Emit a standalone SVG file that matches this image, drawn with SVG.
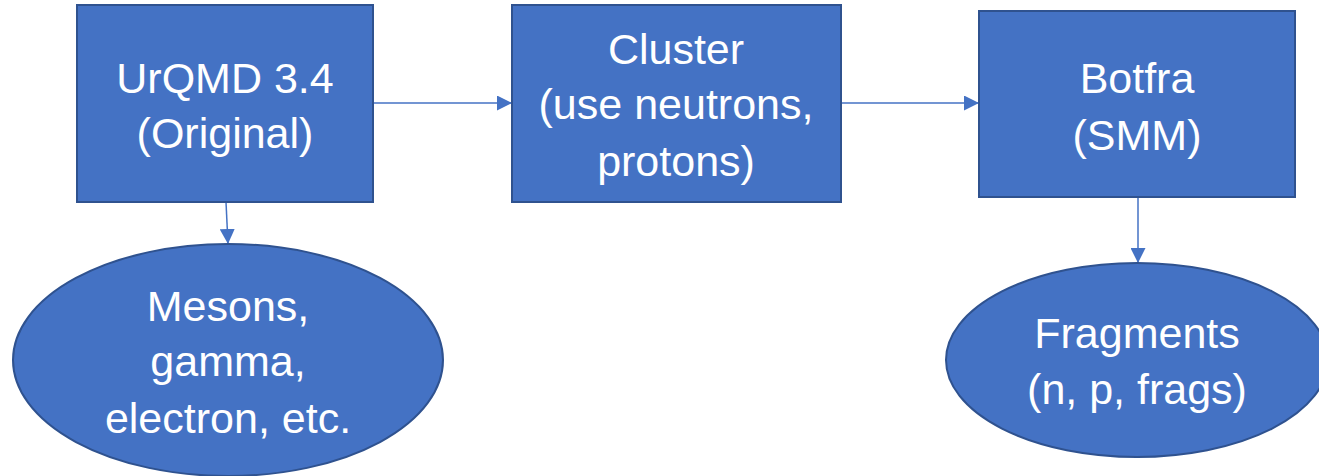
<svg xmlns="http://www.w3.org/2000/svg" width="1319" height="476" viewBox="0 0 1319 476">
<style>
.n{fill:#4472C4;stroke:#2F528F;stroke-width:2}
.t{font-family:"Liberation Sans",Arial,sans-serif;font-size:43px;fill:#fff;text-anchor:middle}
.c{stroke:#4472C4;stroke-width:1.5;fill:none}
</style>
<defs>
<marker id="ah2" viewBox="0 0 14 14" refX="14" refY="7" markerWidth="15" markerHeight="15" markerUnits="userSpaceOnUse" orient="auto">
<path d="M0,0 L14,7 L0,14 z" fill="#4472C4"/>
</marker>
</defs>
<rect width="1319" height="476" fill="#fff"/>
<g id="connectors">
<line class="c" x1="373" y1="103" x2="512" y2="103" marker-end="url(#ah2)"/>
<line class="c" x1="841" y1="103" x2="979" y2="103" marker-end="url(#ah2)"/>
<line class="c" x1="226" y1="202" x2="228" y2="244" marker-end="url(#ah2)"/>
<line class="c" x1="1138" y1="197" x2="1138" y2="263" marker-end="url(#ah2)"/>
</g>
<g id="urqmd">
<rect class="n" x="77" y="5" width="296" height="197"/>
<text class="t" x="225" y="93">UrQMD 3.4</text>
<text class="t" x="225" y="148">(Original)</text>
</g>
<g id="cluster">
<rect class="n" x="512" y="5" width="329" height="197"/>
<text class="t" x="676" y="64">Cluster</text>
<text class="t" x="676" y="119">(use neutrons,</text>
<text class="t" x="676" y="176">protons)</text>
</g>
<g id="botfra">
<rect class="n" x="979" y="11" width="316" height="186"/>
<text class="t" x="1137" y="93">Botfra</text>
<text class="t" x="1137" y="150">(SMM)</text>
</g>
<g id="mesons">
<ellipse class="n" cx="228" cy="360" rx="215" ry="116"/>
<text class="t" x="228" y="321">Mesons,</text>
<text class="t" x="228" y="376">gamma,</text>
<text class="t" x="228" y="433">electron, etc.</text>
</g>
<g id="fragments">
<ellipse class="n" cx="1137" cy="360" rx="191" ry="97"/>
<text class="t" x="1137" y="348">Fragments</text>
<text class="t" x="1137" y="404">(n, p, frags)</text>
</g>
</svg>
